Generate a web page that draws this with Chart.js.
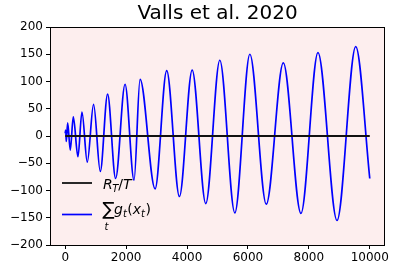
<!DOCTYPE html>
<html>
<head>
<meta charset="utf-8">
<script src="https://cdn.jsdelivr.net/npm/chart.js@4"></script>
<style>
  html, body { margin: 0; padding: 0; background: #fff; }
  #wrap { width: 397px; height: 272px; }
</style>
</head>
<body>
<div id="wrap"><canvas id="chart" width="397" height="272"></canvas></div>
<script>
// values (peaks and troughs of the blue curve)
const sumX = [0, 15, 35, 80, 165, 265, 418, 549, 724, 931, 1151, 1391, 1655, 1964, 2260,
  2457, 2951, 3332, 3750, 4168, 4615, 5076, 5569, 6063, 6602, 7161, 7740, 8299, 8924, 9539, 10000];
const sumY = [5, 11, -10, 24, -26, 35, -38, 44, -48, 58, -65, 77, -78, 95, -81,
  104, -97, 120, -111, 121, -124, 139, -141, 150, -125, 134, -142, 153, -155, 164, -78];
const regretX = [0, 10000];
const regretY = [0, 0];
const xTicks = [0, 2000, 4000, 6000, 8000, 10000];
const yTicks = [-200, -150, -100, -50, 0, 50, 100, 150, 200];

Chart.defaults.font.family = 'DejaVu Sans';
Chart.defaults.color = '#000';

const minus = v => String(v).replace('-', '\u2212');

// pink axes background + black frame
const frame = {
  id: 'frame',
  beforeDatasetsDraw(chart) {
    const a = chart.chartArea, ctx = chart.ctx;
    ctx.save();
    ctx.fillStyle = '#fdeeee';
    ctx.fillRect(a.left, a.top, a.right - a.left, a.bottom - a.top);
    ctx.restore();
  },
  afterDatasetsDraw(chart) {
    const a = chart.chartArea, ctx = chart.ctx;
    ctx.save();
    ctx.strokeStyle = '#000';
    ctx.lineWidth = 1;
    ctx.strokeRect(a.left + 0.5, a.top + 0.5, a.right - a.left - 1, a.bottom - a.top);
    ctx.restore();
  }
};

// legend with math labels, drawn by hand
const mathLegend = {
  id: 'mathLegend',
  afterDatasetsDraw(chart) {
    const ctx = chart.ctx;
    const ds = chart.data.datasets;
    const x0 = 62, x1 = 92, tx = 103;
    const rows = [183, 214.5];
    ctx.save();
    rows.forEach((y, i) => {
      ctx.strokeStyle = ds[i].borderColor;
      ctx.lineWidth = ds[i].borderWidth;
      ctx.beginPath();
      ctx.moveTo(x0, y);
      ctx.lineTo(x1, y);
      ctx.stroke();
    });
    ctx.fillStyle = '#000';
    ctx.textBaseline = 'alphabetic';
    const put = (s, font, x, y) => {
      ctx.font = font;
      ctx.fillText(s, x, y);
      return x + ctx.measureText(s).width;
    };
    const it = 'italic 14px "DejaVu Sans"';
    const sub = 'italic 10px "DejaVu Sans"';
    const rm = '14px "DejaVu Sans"';
    // R_T/T
    let b = 188.5, x = tx;
    x = put('R', it, x, b);
    x = put('T', sub, x - 0.5, b + 3);
    x = put('/', rm, x, b);
    put('T', it, x, b);
    // sum_t g_t(x_t)
    b = 213.5;
    put('\u2211', '18px "DejaVu Sans"', tx - 0.5, b + 1.5);
    put('t', sub, tx + 1.5, b + 16);
    x = tx + 11;
    x = put('g', it, x, b);
    x = put('t', sub, x, b + 3);
    x = put('(', rm, x + 0.5, b);
    x = put('x', it, x, b);
    x = put('t', sub, x, b + 3);
    put(')', rm, x + 0.5, b);
    ctx.restore();
  }
};

new Chart(document.getElementById('chart'), {
  type: 'line',
  data: {
    datasets: [
      {
        label: 'R_T/T',
        data: regretX.map((x, i) => ({ x, y: regretY[i] })),
        borderColor: '#111',
        borderWidth: 1.8,
        pointRadius: 0,
      },
      {
        label: 'sum_t g_t(x_t)',
        data: sumX.map((x, i) => ({ x, y: sumY[i] })),
        borderColor: '#0000ff',
        borderWidth: 1.7,
        pointRadius: 0,
        cubicInterpolationMode: 'monotone',
      },
    ],
  },
  options: {
    responsive: false,
    animation: false,
    layout: { padding: { left: 0, right: 12, top: 0, bottom: 0 } },
    scales: {
      x: {
        type: 'linear',
        min: -500,
        max: 10500,
        afterBuildTicks: s => { s.ticks = xTicks.map(v => ({ value: v })); },
        afterFit: s => { s.height = 27; },
        grid: { drawOnChartArea: false, drawTicks: true, tickLength: 4, color: '#000' },
        border: { display: false },
        ticks: { font: { size: 12 }, padding: 2, maxRotation: 0, callback: minus },
      },
      y: {
        min: -200,
        max: 200,
        afterBuildTicks: s => { s.ticks = yTicks.map(v => ({ value: v })); },
        afterFit: s => { s.width = 50; },
        grid: { drawOnChartArea: false, drawTicks: true, tickLength: 4, color: '#000' },
        border: { display: false },
        ticks: { font: { size: 12 }, padding: 3, callback: minus },
      },
    },
    plugins: {
      legend: { display: false },
      tooltip: { enabled: false },
      title: {
        display: true,
        fullSize: false,
        text: 'Valls et al. 2020',
        color: '#000',
        font: { size: 20, weight: 'normal' },
        padding: { top: 2, bottom: 1 },
      },
    },
  },
  plugins: [frame, mathLegend],
});
</script>
</body>
</html>
